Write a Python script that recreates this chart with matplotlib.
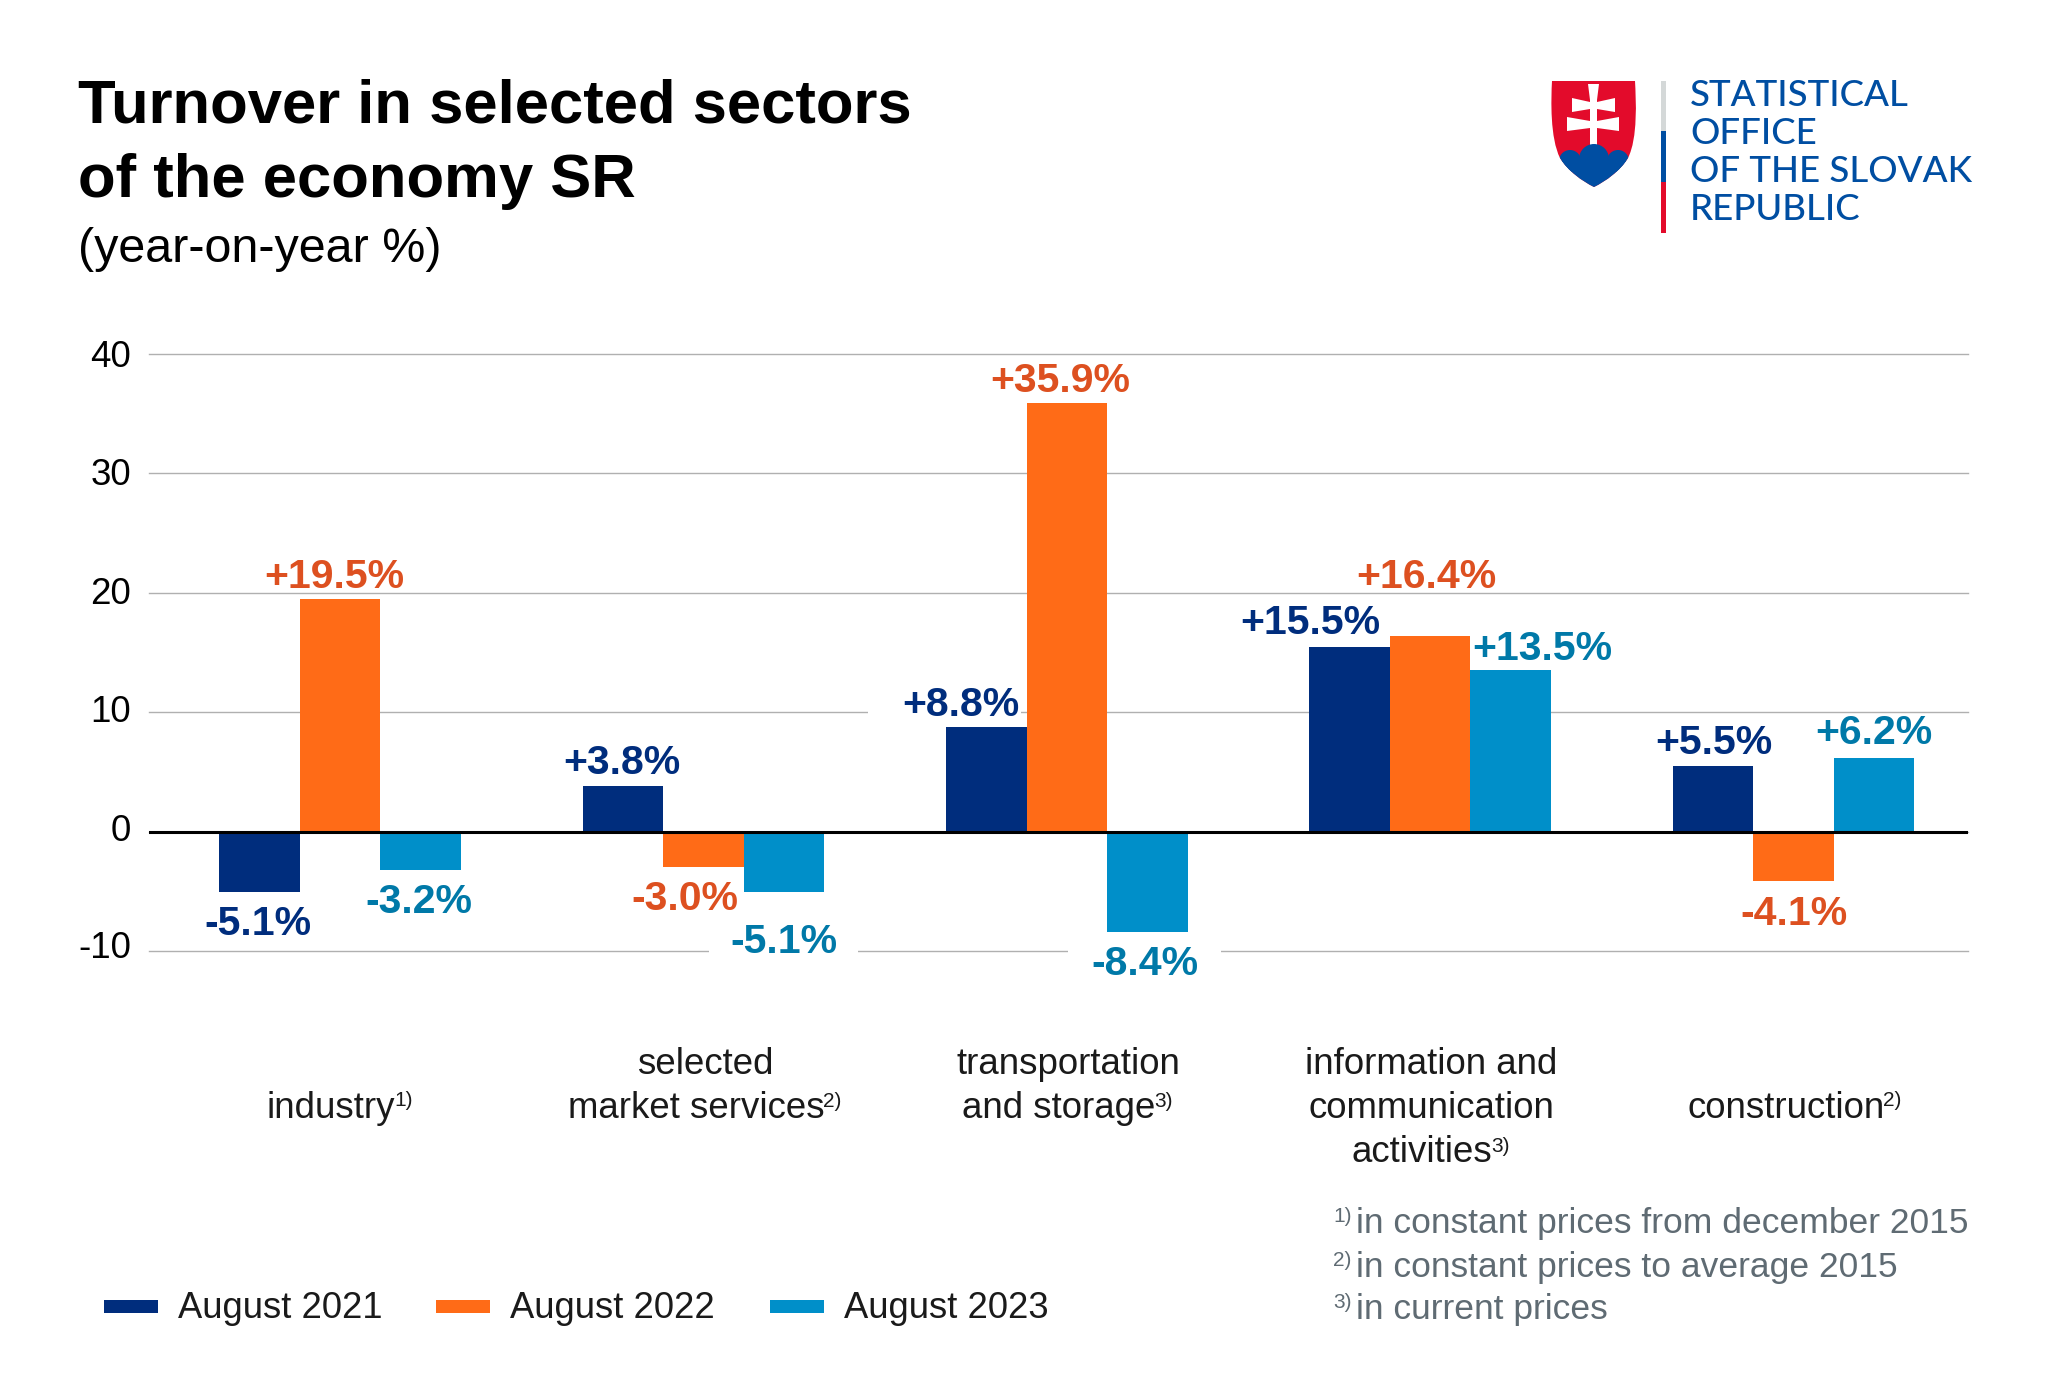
import matplotlib
matplotlib.use("Agg")
import matplotlib.pyplot as plt
from matplotlib.patches import PathPatch, Rectangle, Polygon, Circle
from matplotlib.path import Path
import numpy as np

W, H = 2048, 1396
plt.rcParams['font.family'] = ['Liberation Sans', 'DejaVu Sans']

categories = ["industry", "selected\nmarket services", "transportation\nand storage",
              "information and\ncommunication\nactivities", "construction"]
cat_notes = ["1)", "2)", "3)", "3)", "2)"]
series_names = ["August 2021", "August 2022", "August 2023"]
aug_2021 = [-5.1, 3.8, 8.8, 15.5, 5.5]
aug_2022 = [19.5, -3.0, 35.9, 16.4, -4.1]
aug_2023 = [-3.2, -5.1, -8.4, 13.5, 6.2]
yticks = [-10, 0, 10, 20, 30, 40]
ytick_labels = ["-10", "0", "10", "20", "30", "40"]
footnotes = ["in constant prices from december 2015", "in constant prices to average 2015", "in current prices"]
footnote_marks = ["1)", "2)", "3)"]
bar_colors = ["#002D7D", "#FF6B17", "#008FC9"]
label_colors = ["#002D7D", "#DD5020", "#0079A8"]

fig = plt.figure(figsize=(W/100, H/100), dpi=100, facecolor="white")
L, R, T0, B0 = 149, 1968, 354, 951
ax = fig.add_axes([L/W, 1-B0/H, (R-L)/W, (B0-T0)/H])
ax.set_ylim(-10, 40)
unit = 363.4
ax.set_xlim(-191/unit, (R-L-191)/unit)
for s in ax.spines.values():
    s.set_visible(False)
ax.set_xticks([])
ax.set_yticks(yticks)
ax.set_yticklabels([])
ax.tick_params(axis='y', length=0)
ax.set_axisbelow(True)
ax.yaxis.grid(True, color="#B0B0B0", lw=1.0)
for gl in ax.get_ygridlines():
    gl.set_clip_on(False)
ax.axhline(0, color="black", lw=2.2, zorder=4)

# tick labels sit slightly off their gridlines in the reference (px downward)
tick_shift = [-3, 0, 0, 2, 2, 4]
for v, s, d in zip(yticks, ytick_labels, tick_shift):
    ax.annotate(s, (0, v), xycoords=('axes fraction', 'data'), xytext=(-18/1.3889, -d/1.3889),
                textcoords="offset points", ha="right", va="center", fontsize=26.5, color="black")

# white gaps behind labels in the gridlines (figure px: x0, x1, y)
gaps = [(709, 858, 951), (1068, 1221, 951), (868, 1021, 713)]
for x0, x1, yy in gaps:
    ax.add_patch(Rectangle((x0/W, 1-(yy+5)/H), (x1-x0)/W, 10/H, transform=fig.transFigure,
                           color="white", lw=0, zorder=2.5, clip_on=False))

bw = 0.2217
x = np.arange(len(categories))
all_series = [aug_2021, aug_2022, aug_2023]
for k, vals in enumerate(all_series):
    ax.bar(x + (k-1)*bw, vals, bw, color=bar_colors[k], zorder=3, linewidth=0)

# label offsets (px) from bar end: (dx, dy)
offs = {
    (0,0):(-1,-32),(1,0):(-6,22),(2,0):(-2,-32),
    (0,1):(-1,23),(1,1):(-19,-32),(2,1):(0,-50),
    (0,2):(-25,22),(1,2):(-7,22),(2,2):(-2,-32),
    (0,3):(-39,24),(1,3):(-4,59),(2,3):(32,21),
    (0,4):(1,23),(1,4):(0,-33),(2,4):(0,25),
}
for k, vals in enumerate(all_series):
    for i, v in enumerate(vals):
        dx, dy = offs[(k,i)]
        ax.annotate(f"{v:+.1f}%", (i+(k-1)*bw, v), xytext=(dx/1.3889, dy/1.3889), textcoords="offset points",
                    ha="center", va="center", fontsize=29.5, fontweight="bold",
                    color=label_colors[k], zorder=5)

fig.canvas.draw()
rend = fig.canvas.get_renderer()
def ft(px, py, s, **kw):
    return fig.text(px/W, 1-py/H, s, **kw)
def width(t):
    return t.get_window_extent(rend).width

# titles
ft(78, 107, "Turnover in selected sectors", fontsize=44.4, fontweight="bold", color="black", va="center")
ft(78, 182, "of the economy SR", fontsize=44.4, fontweight="bold", color="black", va="center")
ft(78, 249, "(year-on-year %)", fontsize=34.9, color="black", va="center")

# category labels
line_h = 44.5
label_cx = [340, 705, 1068, 1431, 1795]
first_y = [1108, 1064, 1064, 1064, 1108]
for i, cat in enumerate(categories):
    lines = cat.split("\n")
    for j, ln in enumerate(lines):
        yy = first_y[i] + j*line_h
        t = ft(label_cx[i], yy, ln, fontsize=26.4, color="#1a1a1a", ha="center", va="center")
        if j == len(lines)-1:
            tw = width(t)
            n = ft(label_cx[i], yy-7, cat_notes[i], fontsize=15, color="#1a1a1a", va="center")
            nw = width(n)
            t.set_x((label_cx[i]-nw/2)/W)
            n.set_x((label_cx[i]-nw/2+tw/2-1)/W)

# legend
leg_x = [104, 436, 770]
for xx, name, c in zip(leg_x, series_names, bar_colors):
    fig.patches.append(Rectangle((xx/W, 1-1313/H), 54/W, 13/H, transform=fig.transFigure, color=c, lw=0))
    ft(xx+74, 1309, name, fontsize=26.2, color="#1a1a1a", va="center")

# footnotes
for j, (m, s) in enumerate(zip(footnote_marks, footnotes)):
    yy = 1224 + j*43
    ft(1333, yy-7, m, fontsize=15, color="#5F6B73", va="center")
    ft(1356, yy, s, fontsize=25.5, color="#5F6B73", va="center")

# logo
la = fig.add_axes([0, 0, 1, 1], facecolor="none")
la.set_xlim(0, W); la.set_ylim(H, 0); la.axis("off")
red, blue = "#E30B2B", "#004EA2"
M, LN, C = Path.MOVETO, Path.LINETO, Path.CURVE4
shield_path = Path(
    [(1552,81),(1635,81),(1636,100),(1638,138),(1628,158),(1620,171),(1606,181),(1594,187),
     (1582,181),(1568,171),(1560,158),(1550,138),(1551,100),(1552,81),(1552,81)],
    [M,LN,C,C,C,C,C,C,C,C,C,C,C,C,Path.CLOSEPOLY])
shield = PathPatch(shield_path, facecolor=red, lw=0)
la.add_patch(shield)
mount = [Rectangle((1545,161),100,35,color=blue,lw=0),
         Circle((1570,161),11,color=blue,lw=0),
         Circle((1594,159),15,color=blue,lw=0),
         Circle((1618,161),11,color=blue,lw=0)]
cross = [Polygon([(1588,84),(1599,84),(1597,100),(1597,150),(1590,150),(1590,100)],closed=True,color="white",lw=0),
         Polygon([(1572,98),(1590,102),(1597,102),(1615,98),(1615,112),(1597,109),(1590,109),(1572,112)],closed=True,color="white",lw=0),
         Polygon([(1567,117),(1590,121),(1597,121),(1619,117),(1619,131),(1597,128),(1590,128),(1567,131)],closed=True,color="white",lw=0)]
for c in cross:
    la.add_patch(c)
for m in mount:
    la.add_patch(m)
    m.set_clip_path(shield)
la.add_patch(Rectangle((1661,81),4.5,50,color="#D4D8D8",lw=0))
la.add_patch(Rectangle((1661,131),4.5,51,color=blue,lw=0))
la.add_patch(Rectangle((1661,182),4.5,51,color=red,lw=0))
for j, s in enumerate(["STATISTICAL", "OFFICE", "OF THE SLOVAK", "REPUBLIC"]):
    la.text(1690, 95+j*38, s, fontsize=26.4, color=blue, va="center", family="Lato", fontweight=500)

fig.savefig("out.png", dpi=100, facecolor="white")
